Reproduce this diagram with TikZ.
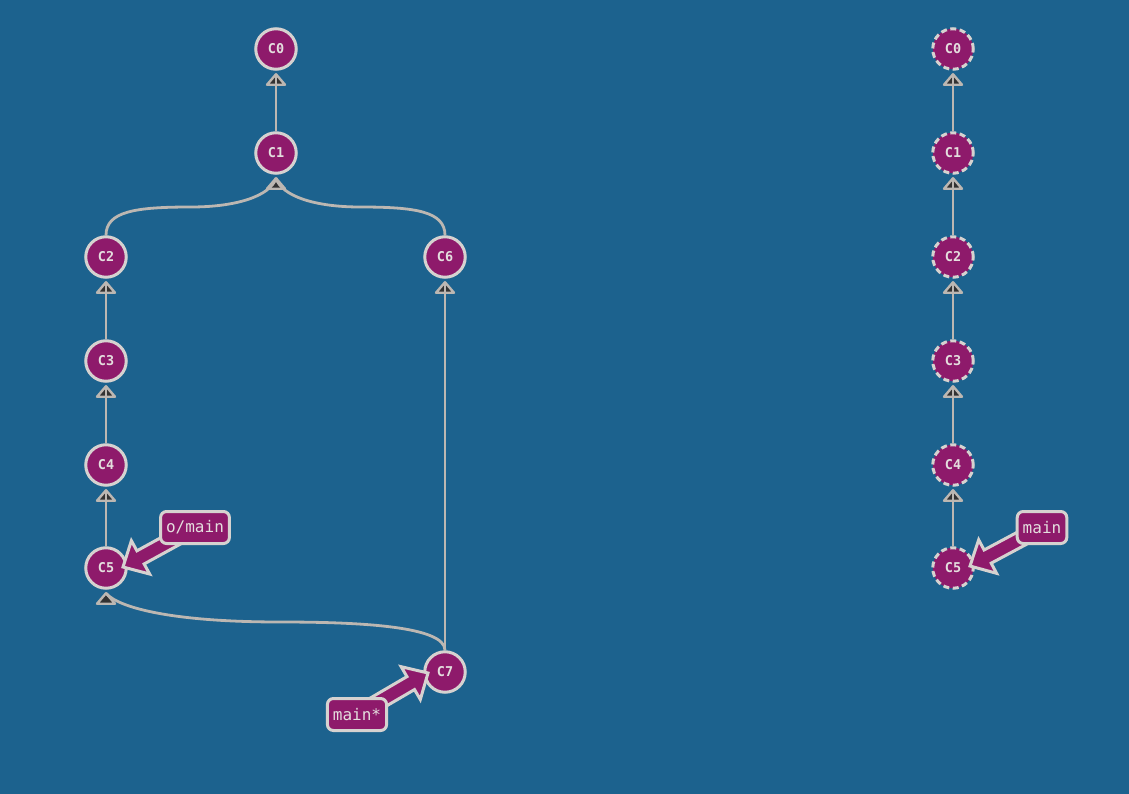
\documentclass[tikz,border=0pt]{standalone}
\usepackage{fontspec}
\setmonofont{DejaVu Sans Mono}
\usetikzlibrary{calc}
\definecolor{bg}{RGB}{28,98,142}
\definecolor{cfill}{RGB}{142,26,107}
\definecolor{cline}{RGB}{214,210,208}
\definecolor{eline}{RGB}{188,183,178}
\definecolor{tipdark}{RGB}{50,50,50}
\definecolor{ctext}{RGB}{228,222,222}
\pgfdeclarelayer{bglayer}
\pgfdeclarelayer{tiplayer}
\pgfdeclarelayer{edgelayer}
\pgfdeclarelayer{commitlayer}
\pgfdeclarelayer{arrowlayer}
\pgfsetlayers{bglayer,tiplayer,edgelayer,commitlayer,arrowlayer,main}
\newcommand\refarrow[2]{%
  \path ($(#1)!20pt!(#2)$) coordinate (hd);
  \draw[bigarrow] (#1) -- ($(hd)!19pt!90:(#2)$) -- ($(hd)!7.5pt!90:(#2)$)
    -- ($(#2)!7.5pt!-90:(#1)$) -- ($(#2)!7.5pt!90:(#1)$)
    -- ($(hd)!7.5pt!-90:(#2)$) -- ($(hd)!19pt!-90:(#2)$) -- cycle;}
% open triangle tip under a node, apex named <node>a
\newcommand\ptip[1]{%
  \coordinate (#1a) at ($(#1.south)+(0,3.5)$);
  \begin{pgfonlayer}{tiplayer}
  \draw[tipshape] (#1a) -- ++(9,10.5) -- ++(-18,0) -- cycle;
  \end{pgfonlayer}}
\begin{document}
\begin{tikzpicture}[x=1pt,y=-1pt,
  commit/.style={circle,draw=cline,fill=cfill,line width=3pt,minimum size=40.5pt,inner sep=0pt,text=ctext,font=\ttfamily\bfseries\fontsize{13.5}{15}\selectfont},
  ghost/.style={commit,dash pattern=on 6pt off 3.5pt},
  refbox/.style={draw=cline,fill=cfill,line width=3pt,rounded corners=6pt,minimum height=32pt,inner xsep=5.5pt,inner ysep=0pt,text=ctext,font=\ttfamily\fontsize{16}{18}\selectfont},
  parent/.style={draw=eline,line width=2.8pt},
  tipshape/.style={draw=eline,fill=tipdark,line width=2.4pt,line join=round},
  bigarrow/.style={draw=cline,fill=cfill,line width=3pt,line join=miter},
]
\begin{pgfonlayer}{bglayer}
\fill[bg] (0,0) rectangle (1129,794);
\end{pgfonlayer}
\useasboundingbox (0,0) rectangle (1129,794);

\begin{pgfonlayer}{commitlayer}
\node[commit] (C0) at (276,49) {C0};
\node[commit] (C1) at (276,153) {C1};
\node[commit] (C2) at (106,257) {C2};
\node[commit] (C3) at (106,361) {C3};
\node[commit] (C4) at (106,465) {C4};
\node[commit] (C5) at (106,568) {C5};
\node[commit] (C6) at (445,257) {C6};
\node[commit] (C7) at (445,672) {C7};
\node[ghost] (R0) at (953,49) {C0};
\node[ghost] (R1) at (953,153) {C1};
\node[ghost] (R2) at (953,257) {C2};
\node[ghost] (R3) at (953,361) {C3};
\node[ghost] (R4) at (953,465) {C4};
\node[ghost] (R5) at (953,568) {C5};
\end{pgfonlayer}

\ptip{C0}\ptip{C1}\ptip{C2}\ptip{C3}\ptip{C4}\ptip{C5}\ptip{C6}
\ptip{R0}\ptip{R1}\ptip{R2}\ptip{R3}\ptip{R4}

\begin{pgfonlayer}{edgelayer}
\draw[parent] (C1.north) -- (C0a);
\draw[parent] (C2.north) .. controls +(0,-24) and +(-55,0) .. (191,207) .. controls +(45,0) and +(-6,18) .. (C1a);
\draw[parent] (C6.north) .. controls +(0,-24) and +(55,0) .. (360,207) .. controls +(-45,0) and +(6,18) .. (C1a);
\draw[parent] (C3.north) -- (C2a);
\draw[parent] (C4.north) -- (C3a);
\draw[parent] (C5.north) -- (C4a);
\draw[parent] (C7.north) -- (C6a);
\draw[parent] (C7.north) .. controls +(0,-24) and +(80,0) .. (280,622) .. controls +(-110,0) and +(12,14) .. (C5a);
\draw[parent] (R1.north) -- (R0a);
\draw[parent] (R2.north) -- (R1a);
\draw[parent] (R3.north) -- (R2a);
\draw[parent] (R4.north) -- (R3a);
\draw[parent] (R5.north) -- (R4a);
\end{pgfonlayer}

\node[refbox] (omain) at (195,527.5) {o/main};
\node[refbox] (mainstar) at (357,714.5) {main*};
\node[refbox] (rmain) at (1042,527.5) {main};
\coordinate (t1) at (123,567);
\coordinate (t2) at (428,673);
\coordinate (t3) at (970,566);

\begin{pgfonlayer}{arrowlayer}
\refarrow{t1}{omain}
\refarrow{t2}{mainstar}
\refarrow{t3}{rmain}
\end{pgfonlayer}
\end{tikzpicture}
\end{document}
